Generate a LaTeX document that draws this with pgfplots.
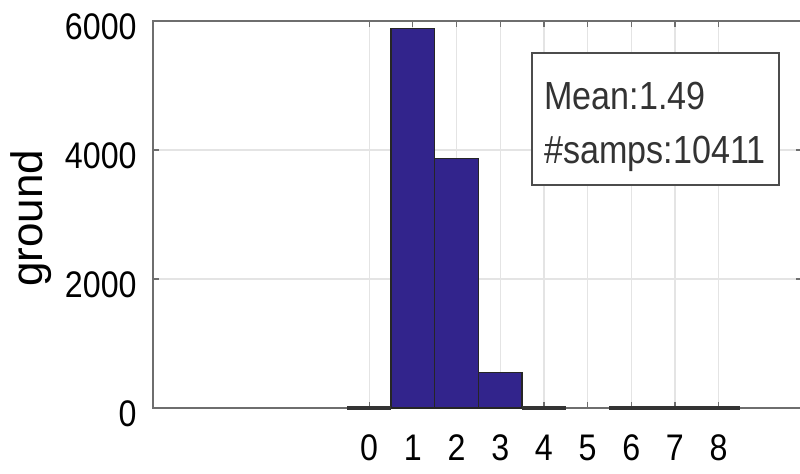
\documentclass[border=0pt]{standalone}
\usepackage{pgfplots}
\pgfplotsset{compat=1.18}
\usepackage{fontspec}
\setmainfont{Liberation Sans}[FakeStretch=0.87]
\newfontfamily\ylabfont{Liberation Sans}
\definecolor{barblue}{RGB}{50,36,140}
\definecolor{axgray}{RGB}{110,110,110}
\definecolor{gridgray}{RGB}{228,228,228}
\begin{document}
\fontsize{18.5}{22}\selectfont
\begin{tikzpicture}
\begin{axis}[
  name=ax,
  scale only axis,
  width=324.3pt, height=193.5pt,
  xmin=-4.95, xmax=9.9,
  ymin=0, ymax=6000,
  clip=false,
  unbounded coords=jump,
  xtick={0,1,2,3,4,5,6,7,8},
  ytick={0,2000,4000,6000},
  scaled y ticks=false,
  /pgf/number format/1000 sep={},
  /pgf/number format/assume math mode=true,
  tick align=inside,
  major tick length=3pt,
  tick style={axgray, line width=0.6pt},
  axis line style={axgray, line width=0.8pt},
  grid=major,
  major grid style={gridgray, line width=0.6pt},
  xticklabel style={anchor=base, inner sep=0pt, yshift=-26.5pt},
  yticklabel style={anchor=base east, inner sep=0pt, xshift=-8pt, yshift=-9.5pt},
  ylabel={\ylabfont\fontsize{22}{26}\selectfont ground},
  ylabel style={at={(axis description cs:-0.171,0.49)}, anchor=base, inner sep=0pt},
  axis on top=false,
]
% non-empty bins
\addplot[ybar, bar width=1, bar shift=0pt, fill=barblue, draw=black!85, line width=0.6pt] coordinates {
 (1,5880) (2,3870) (3,545)
};
% empty bins (count 0), drawn as flat bars along the baseline
\addplot[sharp plot, no marks, draw=black!80, line width=1.8pt, line cap=butt] coordinates {
 (-0.5,0) (0.5,0) (1,nan) (3.5,0) (4.5,0) (5,nan) (5.5,0) (8.5,0)
};
\draw[fill=white, draw=black!70, line width=0.8pt] (axis cs:3.73,5504) rectangle (axis cs:9.38,3457);
\node[anchor=base west, inner sep=0pt, text=black!80, font=\fontsize{19.6}{23}\selectfont] at (axis cs:4.0,4620) {Mean:1.49};
\node[anchor=base west, inner sep=0pt, text=black!80, font=\fontsize{19.6}{23}\selectfont] at (axis cs:4.0,3798) {\#samps:10411};
\end{axis}
\pgfresetboundingbox
\path[use as bounding box] (ax.south west) ++(-76.5pt,-33pt) rectangle ++(400pt,237pt);
\end{tikzpicture}
\end{document}
